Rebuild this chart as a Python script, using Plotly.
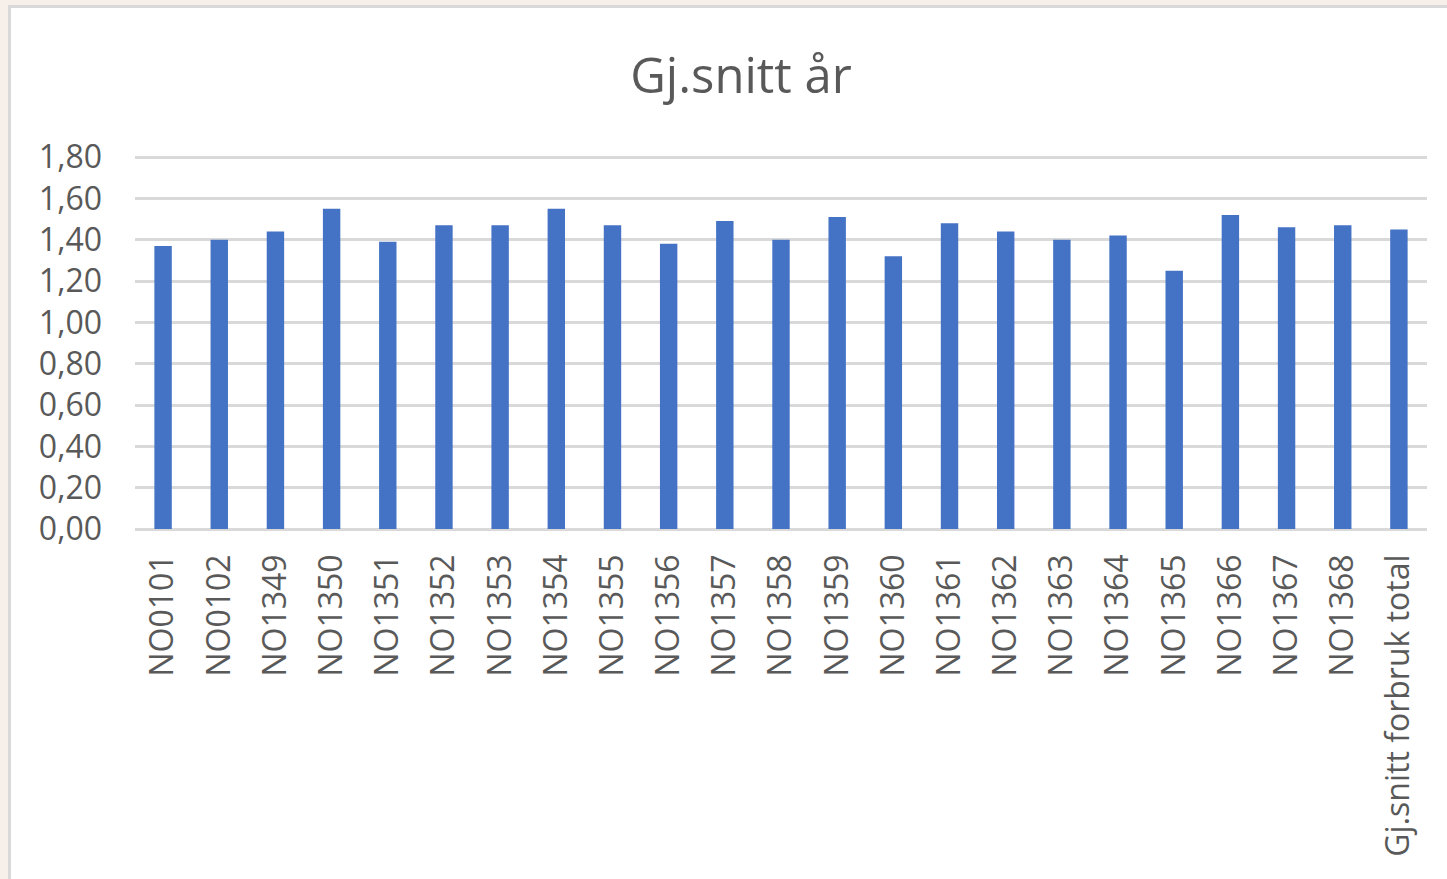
import plotly.graph_objects as go

categories = ["NO0101", "NO0102", "NO1349", "NO1350", "NO1351", "NO1352", "NO1353",
              "NO1354", "NO1355", "NO1356", "NO1357", "NO1358", "NO1359", "NO1360",
              "NO1361", "NO1362", "NO1363", "NO1364", "NO1365", "NO1366", "NO1367",
              "NO1368", "Gj.snitt forbruk total"]
values = [1.37, 1.40, 1.44, 1.55, 1.39, 1.47, 1.47, 1.55, 1.47, 1.38, 1.49, 1.40,
          1.51, 1.32, 1.48, 1.44, 1.40, 1.42, 1.25, 1.52, 1.46, 1.47, 1.45]
title_text = "Gj.snitt år"
y_ticks = [0, 0.2, 0.4, 0.6, 0.8, 1.0, 1.2, 1.4, 1.6, 1.8]

W, H = 1447, 879
L, R, T, B = 135, 20, 155, 350
pw, ph = W - L - R, H - T - B

def px_x(p):
    return (p - L) / pw

def px_y(p):
    return (H - B - p) / ph

fig = go.Figure(go.Bar(x=categories, y=values, marker=dict(color="#4472C4", line=dict(width=0))))

fig.add_shape(type="rect", xref="paper", yref="paper",
              x0=px_x(9.5), x1=px_x(1470), y0=px_y(6.5), y1=px_y(920),
              line=dict(color="#d9d9d9", width=3), fillcolor="white", layer="below")

fig.update_layout(
    width=W, height=H,
    margin=dict(l=L, r=R, t=T, b=B, autoexpand=False),
    paper_bgcolor="#f7efea", plot_bgcolor="white",
    separators=",.",
    bargap=0.69,
    showlegend=False,
    font=dict(family="Open Sans", color="#595959"),
    title=dict(text=title_text, x=741 / W, xref="container", xanchor="center",
               y=1 - 76 / H, yref="container", yanchor="middle",
               font=dict(size=49, color="#595959", family="Open Sans")),
)
fig.update_yaxes(range=[0, 1.81], tickvals=y_ticks, tickformat=".2f",
                 showgrid=True, gridcolor="#d9d9d9", gridwidth=2.5,
                 zeroline=True, zerolinecolor="#d9d9d9", zerolinewidth=2.5,
                 showline=False, ticks="", ticklabelstandoff=32,
                 tickfont=dict(size=32, color="#595959", family="Open Sans"))
fig.update_xaxes(tickangle=-90, showgrid=False, showline=False, ticks="",
                 ticklabelstandoff=18,
                 tickfont=dict(size=32, color="#595959", family="Open Sans"))

fig.write_html("out.html",
               config={"displayModeBar": False},
               post_script="document.body.style.margin='0';"
                           "document.body.style.background='#f7efea';")
